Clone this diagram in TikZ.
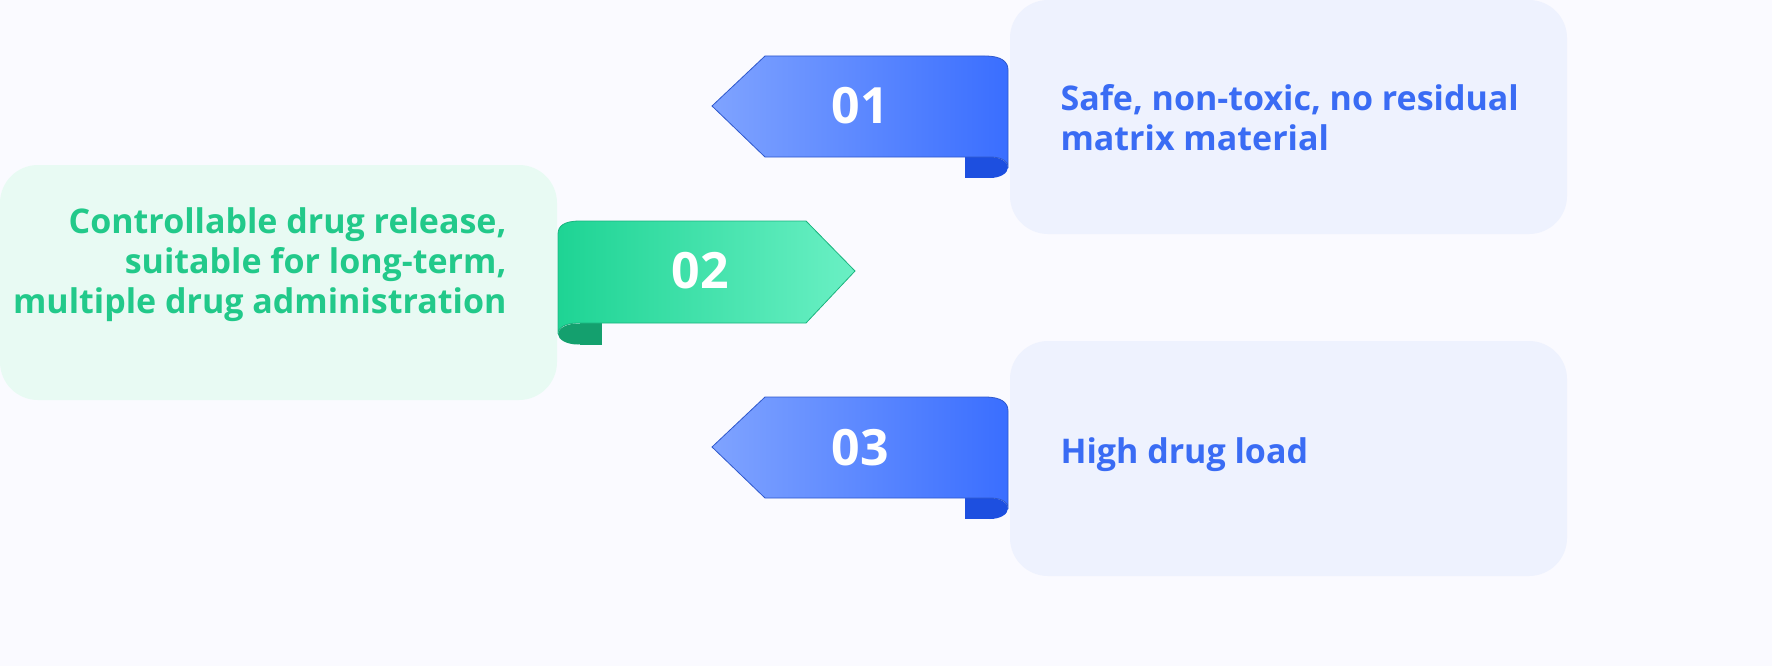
\documentclass[tikz,border=0pt]{standalone}
\usepackage{fontspec}
\setmainfont{Open Sans}
\definecolor{bluetxt}{HTML}{3A6CF4}
\definecolor{greentxt}{HTML}{22C98A}
\definecolor{bluebox}{HTML}{EEF2FE}
\definecolor{greenbox}{HTML}{E8FAF3}
\definecolor{bluel}{HTML}{7FA3FF}
\definecolor{blued}{HTML}{3A6EFF}
\definecolor{bluedk}{HTML}{1D4FE0}
\definecolor{greenl}{HTML}{6AF0C4}
\definecolor{greend}{HTML}{1ED494}
\definecolor{greendk}{HTML}{14A06E}
\begin{document}
\begin{tikzpicture}[x=1pt,y=-1pt,
  box/.style={rounded corners=38pt},
  lbl/.style={font=\bfseries\fontsize{34}{40}\selectfont, anchor=west, align=left, text=bluetxt},
  num/.style={font=\bfseries\fontsize{50}{50}\selectfont, text=white}]
\useasboundingbox (0,0) rectangle (1772,666);
\fill[white!98!blue] (0,0) rectangle (1772,666);
% boxes
\fill[bluebox,box] (1010,0) rectangle (1567,234);
\fill[bluebox,box] (1010,341) rectangle (1567,576);
\fill[greenbox,box] (0,165) rectangle (557,400);
% ribbons blue
\foreach \y/\n/\nm in {0/01/ra,341/03/rc}{
  \begin{scope}[yshift=-\y]
  \fill[bluedk] (965,157) rectangle (990,178);
  \fill[bluedk] (990,167.5) ellipse (18 and 10.5);
  \shade[left color=bluel,right color=blued,draw=blued!80!black,line width=0.8pt]
    (712,106) -- (765,56) -- (985,56) .. controls (1002,56) and (1008,62) .. (1008,70)
    -- (1008,168) .. controls (1008,160) and (1000,157) .. (990,157) -- (765,157) -- cycle;
  \end{scope}}
\node[num] (n1) at (860,106) {01};
\node[num] (n3) at (860,448) {03};
% ribbon green
\fill[greendk] (580,323) rectangle (602,345);
\fill[greendk] (578,334) ellipse (20 and 10.5);
\shade[left color=greend,right color=greenl,draw=greend!85!black,line width=0.8pt]
  (855,271) -- (806,221) -- (580,221) .. controls (564,221) and (558,226) .. (558,234)
  -- (558,334) .. controls (558,327) and (566,323) .. (578,323) -- (806,323) -- cycle;
\node[num] (n2) at (700,271) {02};
% texts
\node[lbl] (t1) at (1057,118) {Safe, non-toxic, no residual\\matrix material};
\node[lbl] (t3) at (1057,455) {High drug load};
\node[lbl,anchor=east,align=right,text=greentxt] (t2) at (510,265)
  {Controllable drug release,\\suitable for long-term,\\multiple drug administration};
\end{tikzpicture}
\end{document}
